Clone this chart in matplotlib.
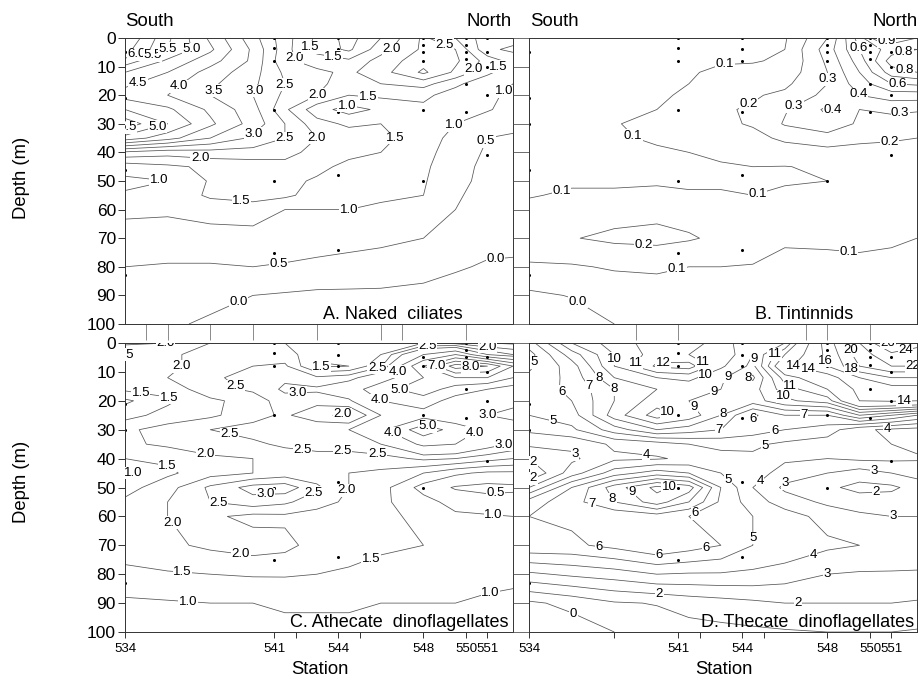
import numpy as np
import matplotlib
matplotlib.use("Agg")
import matplotlib.pyplot as plt
from matplotlib.ticker import FixedLocator, NullFormatter

plt.rcParams['font.family'] = ['Liberation Sans', 'DejaVu Sans']

# ---------------- grid (station x depth) ----------------
stations = [534, 536, 538, 540, 541.5, 543, 544.5, 546, 548, 549.5, 551, 552.2]
depths = [0, 4, 8, 12, 16, 20, 25, 30, 35, 40, 45, 50, 55, 60, 70, 80, 90, 100]

# each inner list = one station column, values top (0 m) to bottom (100 m)
naked_ciliates = [
    [7.0, 6.7, 5.8, 5.0, 4.6, 4.3, 5.0, 5.8, 4.8, 2.4, 1.2, 0.9, 1.05, 1.05, 0.9, 0.5, 0.3, 0.15],
    [5.6, 5.5, 4.9, 4.5, 4.2, 4.0, 4.6, 5.0, 4.2, 2.2, 1.4, 1.0, 1.1, 1.05, 0.85, 0.45, 0.2, 0.05],
    [4.4, 4.6, 4.2, 3.8, 3.6, 3.5, 3.9, 4.1, 3.5, 2.3, 1.6, 1.55, 1.6, 1.15, 0.85, 0.45, 0.1, -0.05],
    [3.2, 3.4, 3.4, 3.2, 3.1, 3.0, 3.2, 3.3, 2.9, 2.3, 1.7, 1.7, 1.75, 1.2, 0.85, 0.5, 0.0, -0.15],
    [2.2, 2.2, 2.1, 2.4, 2.5, 2.4, 2.1, 2.5, 2.5, 2.2, 1.8, 1.6, 1.6, 1.0, 0.8, 0.45, -0.05, -0.2],
    [1.4, 1.3, 1.8, 2.1, 2.1, 2.0, 1.2, 1.7, 2.0, 1.8, 1.6, 1.45, 1.3, 1.0, 0.7, 0.4, -0.1, -0.25],
    [0.8, 0.9, 1.6, 1.9, 1.8, 1.5, 0.8, 1.4, 1.8, 1.6, 1.4, 1.3, 1.2, 1.0, 0.65, 0.35, -0.1, -0.3],
    [1.5, 1.8, 2.2, 2.3, 2.0, 1.6, 1.1, 1.5, 1.6, 1.5, 1.3, 1.2, 1.1, 0.9, 0.6, 0.3, -0.1, -0.3],
    [2.6, 2.6, 2.8, 3.1, 2.2, 1.6, 1.4, 1.5, 1.3, 1.2, 1.1, 1.05, 1.0, 0.8, 0.5, 0.2, -0.15, -0.35],
    [2.0, 2.5, 2.6, 2.4, 1.6, 1.3, 1.1, 1.0, 0.8, 0.7, 0.65, 0.6, 0.55, 0.5, 0.3, 0.05, -0.2, -0.4],
    [1.2, 1.1, 1.8, 1.6, 1.2, 1.1, 1.05, 0.7, 0.5, 0.45, 0.4, 0.4, 0.35, 0.3, 0.15, -0.05, -0.25, -0.4],
    [1.2, 0.9, 1.3, 1.2, 1.0, 0.9, 0.8, 0.6, 0.45, 0.4, 0.35, 0.3, 0.3, 0.25, 0.1, -0.05, -0.25, -0.45],
]

tintinnids = [
    [0.06, 0.07, 0.08, 0.08, 0.08, 0.08, 0.08, 0.08, 0.08, 0.08, 0.08, 0.09, 0.095, 0.12, 0.15, 0.09, -0.02, -0.08],
    [0.06, 0.07, 0.08, 0.085, 0.085, 0.085, 0.085, 0.085, 0.09, 0.09, 0.09, 0.09, 0.11, 0.15, 0.195, 0.09, 0.005, -0.05],
    [0.06, 0.07, 0.08, 0.085, 0.085, 0.09, 0.09, 0.098, 0.095, 0.085, 0.085, 0.09, 0.11, 0.16, 0.22, 0.11, 0.04, 0.0],
    [0.06, 0.07, 0.085, 0.09, 0.09, 0.095, 0.1, 0.11, 0.105, 0.095, 0.085, 0.09, 0.12, 0.17, 0.23, 0.11, 0.07, 0.03],
    [0.06, 0.07, 0.09, 0.095, 0.1, 0.105, 0.12, 0.13, 0.12, 0.1, 0.09, 0.085, 0.11, 0.16, 0.21, 0.1, 0.07, 0.04],
    [0.07, 0.08, 0.095, 0.11, 0.13, 0.15, 0.19, 0.18, 0.14, 0.11, 0.095, 0.085, 0.11, 0.15, 0.18, 0.1, 0.07, 0.04],
    [0.07, 0.08, 0.095, 0.12, 0.16, 0.19, 0.21, 0.21, 0.17, 0.12, 0.1, 0.09, 0.1, 0.13, 0.15, 0.095, 0.07, 0.04],
    [0.09, 0.1, 0.11, 0.14, 0.18, 0.22, 0.29, 0.31, 0.22, 0.15, 0.098, 0.095, 0.11, 0.12, 0.11, 0.08, 0.06, 0.04],
    [0.3, 0.35, 0.32, 0.3, 0.3, 0.33, 0.42, 0.38, 0.25, 0.17, 0.11, 0.1, 0.12, 0.13, 0.11, 0.085, 0.06, 0.04],
    [0.65, 0.6, 0.55, 0.5, 0.45, 0.4, 0.3, 0.28, 0.22, 0.17, 0.12, 0.11, 0.12, 0.12, 0.11, 0.09, 0.06, 0.04],
    [1.05, 0.75, 0.85, 0.75, 0.6, 0.45, 0.32, 0.26, 0.21, 0.17, 0.14, 0.12, 0.12, 0.11, 0.105, 0.09, 0.06, 0.04],
    [0.9, 0.8, 0.9, 0.8, 0.62, 0.45, 0.31, 0.25, 0.2, 0.17, 0.15, 0.13, 0.12, 0.11, 0.1, 0.09, 0.06, 0.04],
]

athecate = [
    [2.1, 1.5, 1.8, 1.9, 1.6, 0.9, 1.3, 1.9, 1.9, 1.5, 0.9, 1.3, 1.6, 1.7, 1.7, 1.4, 0.9, 0.8],
    [2.0, 1.9, 1.9, 2.0, 1.7, 1.4, 1.7, 2.2, 2.1, 1.6, 1.4, 1.8, 2.0, 2.0, 1.9, 1.45, 0.95, 0.85],
    [2.0, 2.2, 2.2, 2.4, 2.3, 1.9, 1.9, 2.5, 2.3, 1.9, 1.8, 2.6, 2.5, 2.1, 2.1, 1.5, 1.0, 0.9],
    [2.1, 2.3, 2.5, 2.7, 2.6, 2.2, 2.3, 2.7, 2.4, 2.0, 2.0, 3.2, 2.8, 1.85, 2.25, 1.55, 1.0, 0.9],
    [2.0, 2.2, 2.6, 2.9, 3.1, 2.8, 2.6, 2.9, 2.6, 2.2, 2.2, 3.3, 2.6, 1.9, 2.15, 1.55, 1.05, 0.9],
    [1.9, 1.7, 1.4, 2.6, 3.1, 2.7, 2.1, 3.0, 2.7, 2.3, 2.2, 2.6, 2.2, 1.8, 1.8, 1.5, 1.05, 0.9],
    [2.0, 1.7, 1.5, 2.8, 3.5, 2.9, 1.9, 3.0, 2.7, 2.3, 2.0, 2.0, 1.9, 1.7, 1.65, 1.45, 1.05, 0.9],
    [2.0, 2.0, 2.4, 3.5, 4.6, 4.0, 3.0, 3.8, 3.0, 2.3, 1.9, 1.7, 1.6, 1.6, 1.55, 1.4, 1.0, 0.9],
    [2.0, 4.0, 6.0, 5.0, 5.6, 4.5, 3.6, 5.6, 4.2, 2.6, 1.5, 0.8, 1.2, 1.4, 1.5, 1.35, 1.0, 0.9],
    [1.8, 5.0, 8.5, 6.0, 4.5, 3.6, 3.2, 4.6, 4.0, 2.5, 1.1, 0.45, 0.8, 1.1, 1.4, 1.3, 1.0, 0.9],
    [1.5, 3.0, 8.0, 6.0, 4.0, 3.2, 3.0, 3.8, 3.3, 2.2, 0.9, 0.35, 0.7, 1.05, 1.3, 1.1, 0.95, 0.85],
    [1.4, 2.5, 6.0, 5.0, 3.5, 3.1, 2.9, 3.2, 2.9, 2.0, 0.9, 0.4, 0.7, 1.0, 1.2, 1.05, 0.95, 0.85],
]

thecate = [
    [5.5, 4.6, 4.8, 5.2, 5.5, 5.4, 5.0, 4.2, 3.2, 2.0, 1.0, 3.0, 5.5, 6.0, 5.8, 2.8, -0.2, -1.0],
    [9.0, 7.5, 6.5, 6.3, 6.2, 6.0, 5.5, 4.8, 3.2, 2.8, 3.5, 6.0, 6.6, 6.2, 5.8, 3.2, 0.3, -0.6],
    [10.5, 10.0, 10.0, 9.0, 8.0, 8.0, 8.5, 6.5, 4.2, 3.8, 5.5, 8.5, 8.0, 6.2, 6.3, 3.5, 0.9, 0.0],
    [11.5, 11.5, 12.2, 10.0, 9.0, 9.5, 10.5, 8.0, 4.5, 3.9, 6.5, 10.3, 9.5, 6.5, 7.0, 4.0, 1.05, 0.5],
    [11.5, 11.0, 12.5, 10.3, 9.3, 9.0, 9.6, 7.5, 5.0, 4.2, 6.0, 9.5, 8.0, 6.0, 6.5, 3.9, 1.4, 0.6],
    [10.5, 10.8, 10.2, 9.2, 9.0, 9.0, 8.0, 7.0, 5.3, 4.6, 5.0, 6.0, 5.8, 5.6, 6.0, 3.9, 1.6, 0.7],
    [9.2, 9.0, 8.7, 7.8, 8.6, 8.5, 5.8, 6.5, 5.2, 4.8, 4.6, 4.0, 4.5, 5.0, 5.0, 3.8, 1.8, 0.8],
    [10.0, 12.0, 13.5, 11.5, 10.5, 9.8, 7.0, 6.0, 4.8, 4.2, 3.5, 2.8, 3.5, 4.5, 4.8, 3.5, 2.0, 0.9],
    [17.0, 16.5, 16.0, 13.0, 12.0, 10.5, 7.0, 5.5, 4.5, 4.0, 3.0, 2.2, 2.8, 3.6, 4.2, 3.0, 2.0, 1.0],
    [22.0, 21.0, 20.0, 16.0, 14.5, 14.0, 9.0, 4.2, 4.2, 4.2, 2.5, 1.7, 2.5, 3.2, 4.0, 2.9, 2.0, 1.0],
    [26.5, 23.5, 22.0, 18.0, 15.0, 14.2, 8.0, 3.8, 4.0, 4.2, 3.0, 1.8, 2.5, 3.0, 3.8, 2.9, 2.0, 1.0],
    [25.0, 22.5, 22.0, 18.0, 15.0, 14.0, 7.0, 3.6, 3.8, 4.1, 3.4, 2.4, 2.7, 3.0, 3.6, 2.9, 1.9, 0.9],
]

# contour levels
levels_a = [0.0, 0.5, 1.0, 1.5, 2.0, 2.5, 3.0, 3.5, 4.0, 4.5, 5.0, 5.5, 6.0, 6.5, 7.0]
levels_b = [0.0, 0.1, 0.2, 0.3, 0.4, 0.5, 0.6, 0.7, 0.8, 0.9, 1.0]
levels_c = [0.5, 1.0, 1.5, 2.0, 2.5, 3.0, 4.0, 5.0, 6.0, 7.0, 8.0]
levels_d = [0, 1, 2, 3, 4, 5, 6, 7, 8, 9, 10, 11, 12, 14, 16, 18, 20, 22, 24, 26]

# sampling points (station, depth)
sample_station = [534, 534, 534, 534, 534,
                  541, 541, 541, 541, 541, 541,
                  544, 544, 544, 544, 544, 544,
                  548, 548, 548, 548, 548, 548,
                  550, 550, 550, 550, 550, 550,
                  551, 551, 551, 551, 551]
sample_depth = [5, 21, 30, 46, 83,
                0, 3.5, 8, 25, 50, 75,
                0, 4, 8, 26, 48, 74,
                0, 2.5, 5, 8, 25, 50,
                0, 2.5, 5, 7.5, 16, 26,
                0, 5, 10, 20, 41]

# x-axis tick labels
station_ticks = [534, 541, 544, 548, 550, 551]
depth_ticks = [0, 10, 20, 30, 40, 50, 60, 70, 80, 90, 100]

# label anchor points (station, depth) for the contour labels
lab_a = [(534.5, 5), (535.3, 6), (536.1, 4), (537.2, 5), (534.7, 17.5), (536.6, 17.5), (538, 17.5),
         (539.8, 17.5), (541.4, 16), (542.9, 19), (545.4, 20), (544.4, 23.4), (534.1, 30.4),
         (535.5, 30.4), (540.1, 34), (541.7, 35.7), (543.5, 35.3), (537.5, 44.4), (535.6, 49.6),
         (539.5, 52.5), (544.5, 60.5), (541.2, 78.3), (539.3, 91.6), (551.4, 78.7), (541.7, 7.7),
         (542.6, 3.0), (543.8, 5.3), (546.7, 6), (548.7, 7), (550.4, 11.2),
         (551.4, 9.4), (551.6, 17), (547.4, 31), (549.4, 30.4), (550.8, 35.7)]
lab_b = [(543.2, 10), (538.9, 34), (544.5, 26.6), (546.6, 26.3), (548.6, 27.3), (548, 14.4),
         (549.5, 19.3), (551.4, 25.5), (550.9, 36.3), (549.3, 3.9), (550.8, 0.7), (551.6, 5.3),
         (551.6, 12.3), (551.3, 15.8), (535.5, 52.5), (544.7, 53.8), (539.4, 70.4), (541, 83),
         (549, 73.5), (536.3, 92.2)]
lab_c = [(535.9, 3.1), (534.5, 5.9), (537.2, 9), (539.3, 13.8), (542.1, 16), (534.7, 19.4),
         (536.1, 18.3), (538.9, 31.1), (542.4, 32.2), (537.8, 38), (536, 41.5), (534.6, 44.6),
         (540.6, 52.2), (538.4, 54.7), (536.4, 61.2), (539.5, 69.6), (536.7, 79.2), (537, 85.1),
         (543.2, 7.6), (545.8, 8), (546.8, 10), (548.6, 8.7), (550.2, 8.7), (548.2, 1.4),
         (551, 1.7), (546.9, 16), (546, 19), (544.2, 24.9), (548.2, 29.1), (546.5, 31.8),
         (550.9, 24.2), (550.4, 31.1), (551.7, 33.5), (544.2, 37.4), (545.8, 40.1),
         (544.2, 49.8), (542.9, 52.6), (551.4, 52.2), (551.3, 58.8), (545.5, 73.7),
         (551.1, 84.4)]
lab_d = [(538.4, 5.5), (539, 6.9), (540.3, 7.6), (542.3, 4.5), (542.3, 11.4), (543.3, 11.4),
         (544.1, 11.4), (544.6, 5.5), (545.5, 3.5), (546.3, 7.3), (547.1, 9), (548, 5.9),
         (548.8, 3.5), (549.2, 7.6), (550.7, 0.5), (551.7, 4.2), (552, 8.3), (546.3, 13.8),
         (546, 18), (537.2, 13.0), (538.1, 15.6), (536.6, 16), (535.5, 17.3), (534.7, 6.9),
         (535.1, 27.3), (542.8, 19.2), (540.5, 24), (541.7, 22.5), (543.1, 24.6), (544.5, 26.5),
         (546.9, 26.3), (542.9, 29.8), (545.5, 29.8), (545, 34.5), (536.3, 37.4), (539.5, 37.8),
         (534.3, 40.5), (534.2, 46.7), (551.6, 18), (550.8, 31.1), (550.2, 42.6), (543.6, 45.3),
         (544.9, 48.4), (546, 48.1), (550.3, 53.6), (551.1, 58.5), (540.7, 51.9), (538.8, 51.9),
         (538, 53.6), (537, 54.3), (541.9, 60.2), (545.6, 67.5), (537.3, 70.6), (542.3, 71.6),
         (540.1, 74.4), (547.3, 72.7), (548, 80.3), (546.6, 87.2), (540.1, 88.9), (536.1, 93.4)]

W, H = 919, 682
fig = plt.figure(figsize=(W / 100, H / 100), dpi=100)


def rect(x0, y0, x1, y1):
    return [x0 / W, 1 - y1 / H, (x1 - x0) / W, (y1 - y0) / H]


def px(x, y):
    return x / W, 1 - y / H


ax_a = fig.add_axes(rect(125, 38, 513, 324))
ax_b = fig.add_axes(rect(529, 38, 917, 324))
ax_c = fig.add_axes(rect(125, 343, 513, 632))
ax_d = fig.add_axes(rect(529, 343, 917, 632))

X, Y = np.meshgrid(stations, depths)
line_col = '#555555'


def draw(ax, data, levels, fmt, labpts):
    Z = np.array(data).T
    cs = ax.contour(X, Y, Z, levels=levels, colors=line_col, linewidths=0.55)
    texts = ax.clabel(cs, levels=levels, fmt=fmt, fontsize=9.5, colors='black',
                      inline=False, manual=labpts)
    for t in texts:
        t.set_rotation(0)
        t.set_bbox(dict(facecolor='white', edgecolor='none', pad=0.3))
    ax.plot(sample_station, sample_depth, 'o', color='black', ms=2.2, mec='none')
    ax.set_xlim(534, 552.2)
    ax.set_ylim(100, 0)
    for s in ax.spines.values():
        s.set_linewidth(0.7)
        s.set_color('#333333')


draw(ax_a, naked_ciliates, levels_a, '%.1f', lab_a)
draw(ax_b, tintinnids, levels_b, '%.1f', lab_b)
draw(ax_c, athecate, levels_c, '%.1f', lab_c)
draw(ax_d, thecate, levels_d, '%d', lab_d)

# y axes
for ax in (ax_a, ax_c):
    ax.set_yticks(depth_ticks)
    ax.set_yticklabels([str(d) for d in depth_ticks], fontsize=12.5)
    ax.tick_params(axis='y', direction='out', length=5, width=0.7, pad=1.5, color='#333333')
for ax in (ax_b, ax_d):
    ax.set_yticks(depth_ticks)
    ax.set_yticklabels([])
    ax.tick_params(axis='y', direction='out', length=11.5, width=0.6, color='#555555')

# top panels: unlabeled station ticks below the frame
ax_a.xaxis.set_major_locator(FixedLocator([535, 536, 538, 540, 543, 546, 547, 550]))
ax_b.xaxis.set_major_locator(FixedLocator([539, 541, 547, 548, 550]))
for ax in (ax_a, ax_b):
    ax.xaxis.set_major_formatter(NullFormatter())
    ax.tick_params(axis='x', direction='out', length=11.5, width=0.6, color='#777777')

# bottom panels: station axis
for ax, minor in ((ax_c, [542, 545]), (ax_d, [538, 542, 545])):
    ax.set_xticks(station_ticks)
    ax.set_xticklabels([str(s) for s in station_ticks], fontsize=9.5)
    ax.xaxis.set_minor_locator(FixedLocator(minor))
    ax.tick_params(axis='x', which='both', direction='out', length=4, width=0.7, pad=4,
                   color='#333333')

# panel titles
ax_a.text(0.871, 0.016, 'A. Naked  ciliates', transform=ax_a.transAxes, ha='right',
          va='baseline', fontsize=13)
ax_b.text(0.835, 0.016, 'B. Tintinnids', transform=ax_b.transAxes, ha='right',
          va='baseline', fontsize=13)
ax_c.text(0.988, 0.018, 'C. Athecate  dinoflagellates', transform=ax_c.transAxes, ha='right',
          va='baseline', fontsize=13)
ax_d.text(0.992, 0.018, 'D. Thecate  dinoflagellates', transform=ax_d.transAxes, ha='right',
          va='baseline', fontsize=13)

# South / North
fig.text(*px(125, 26), 'South', ha='left', va='baseline', fontsize=13.4)
fig.text(*px(512, 26), 'North', ha='right', va='baseline', fontsize=13.4)
fig.text(*px(530, 26), 'South', ha='left', va='baseline', fontsize=13.4)
fig.text(*px(918, 26), 'North', ha='right', va='baseline', fontsize=13.4)

# axis labels
fig.text(*px(22, 178), 'Depth (m)', rotation=90, ha='center', va='center', fontsize=13.3)
fig.text(*px(22, 482), 'Depth (m)', rotation=90, ha='center', va='center', fontsize=13.3)
fig.text(*px(320, 669), 'Station', ha='center', va='center', fontsize=13.3)
fig.text(*px(724, 669), 'Station', ha='center', va='center', fontsize=13.3)

fig.savefig('out.png', dpi=100)
